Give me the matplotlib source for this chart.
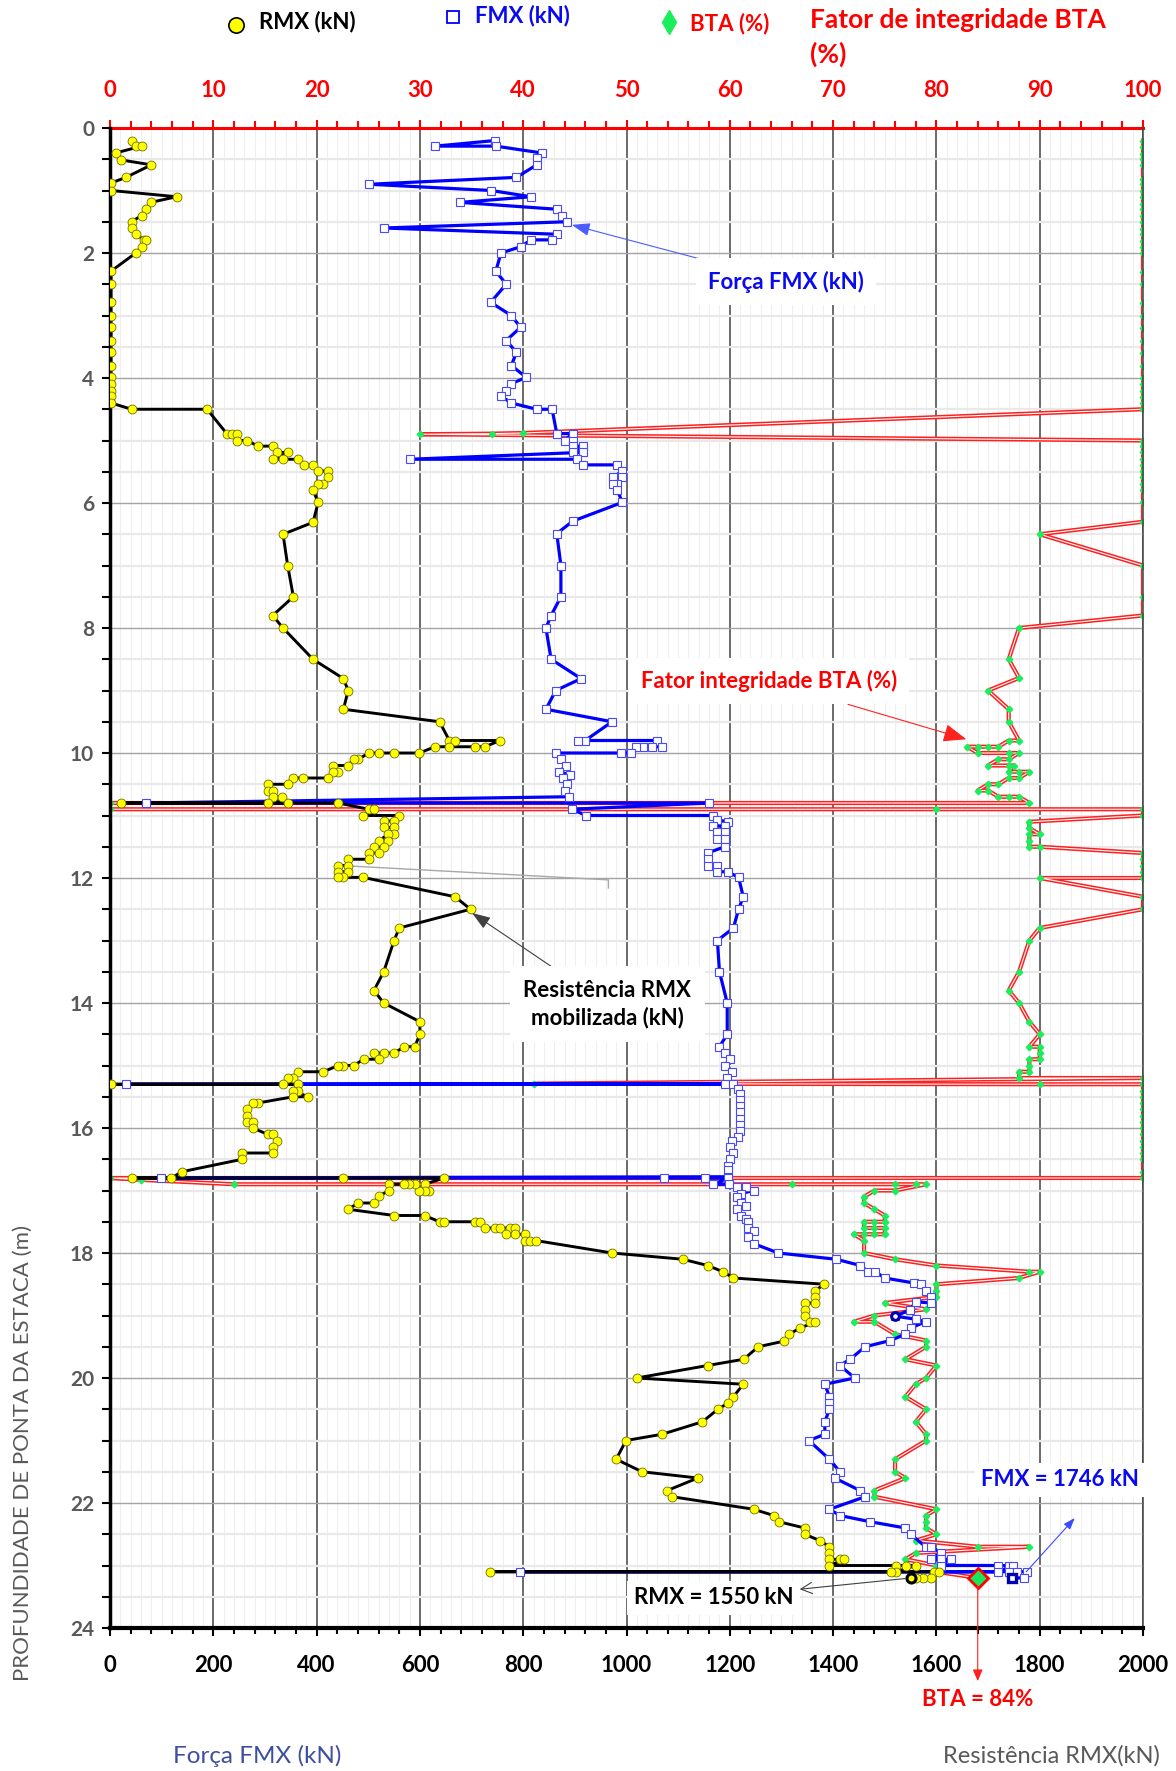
import matplotlib
matplotlib.use("Agg")
import matplotlib.pyplot as plt
import matplotlib.patheffects as pe
from matplotlib.lines import Line2D
from matplotlib.ticker import MultipleLocator, FixedLocator

plt.rcParams["font.family"] = ["Lato", "DejaVu Sans"]
plt.rcParams["font.weight"] = "bold"

# ---------------- data ----------------
# RMX - mobilised resistance (kN) along the pile tip depth (m)
rmx_depth = [0.20, 0.29, 0.29, 0.40, 0.51, 0.59, 0.79, 0.88, 1.00, 1.10,
             1.19, 1.30, 1.40, 1.50, 1.60, 1.70, 1.79, 1.79, 1.90, 2.00,
             2.29, 2.50, 2.79, 3.00, 3.19, 3.40, 3.59, 3.80, 3.99, 4.09,
             4.20, 4.29, 4.40, 4.50, 4.50, 4.89, 4.89, 4.89, 5.00, 5.00,
             5.09, 5.09, 5.19, 5.19, 5.30, 5.30, 5.30, 5.39, 5.39, 5.49,
             5.49, 5.59, 5.69, 5.69, 5.79, 5.99, 6.31, 6.50, 7.00, 7.50,
             7.80, 8.00, 8.50, 8.81, 9.00, 9.30, 9.50, 9.80, 9.80, 9.80,
             9.90, 9.90, 9.90, 9.90, 10.00, 10.00, 10.00, 10.00, 10.10, 10.10,
             10.20, 10.20, 10.30, 10.30, 10.40, 10.40, 10.40, 10.50, 10.50, 10.60,
             10.60, 10.70, 10.70, 10.80, 10.80, 10.80, 10.80, 10.90, 10.90, 11.00,
             11.00, 11.09, 11.09, 11.19, 11.19, 11.30, 11.30, 11.40, 11.40, 11.50,
             11.50, 11.60, 11.60, 11.70, 11.70, 11.80, 11.80, 11.90, 11.90, 11.99,
             11.99, 11.99, 12.30, 12.50, 12.80, 13.00, 13.50, 13.80, 14.00, 14.30,
             14.50, 14.70, 14.70, 14.80, 14.80, 14.80, 14.90, 14.90, 15.00, 15.00,
             15.00, 15.10, 15.10, 15.20, 15.20, 15.30, 15.30, 15.30, 15.40, 15.40,
             15.50, 15.50, 15.60, 15.60, 15.70, 15.80, 15.90, 15.90, 16.00, 16.10,
             16.10, 16.20, 16.30, 16.40, 16.40, 16.50, 16.70, 16.80, 16.80, 16.80,
             16.80, 16.90, 17.00, 17.00, 17.00, 16.90, 16.90, 16.90, 16.90, 17.00,
             17.09, 17.20, 17.20, 17.30, 17.40, 17.40, 17.50, 17.50, 17.50, 17.50,
             17.60, 17.60, 17.60, 17.60, 17.60, 17.70, 17.70, 17.70, 17.80, 17.80,
             17.80, 18.00, 18.10, 18.20, 18.30, 18.40, 18.50, 18.61, 18.71, 18.80,
             18.80, 18.91, 19.01, 19.11, 19.11, 19.20, 19.30, 19.41, 19.50, 19.70,
             19.80, 20.00, 20.10, 20.30, 20.40, 20.50, 20.70, 20.90, 21.00, 21.30,
             21.50, 21.60, 21.80, 21.90, 22.10, 22.20, 22.30, 22.40, 22.50, 22.60,
             22.70, 22.80, 22.90, 22.90, 22.90, 23.00, 23.00, 23.00, 23.00, 23.10,
             23.10, 23.10, 23.10, 23.10, 23.20, 23.20, 23.20]
rmx_kn = [42, 51, 61, 11, 21, 80, 31, 2, 2, 129,
          79, 70, 61, 42, 42, 50, 66, 70, 61, 50,
          2, 2, 2, 2, 2, 2, 2, 2, 2, 2,
          2, 2, 2, 42, 188, 226, 237, 246, 246, 266,
          286, 315, 323, 344, 315, 334, 364, 375, 393, 403,
          423, 423, 413, 403, 393, 403, 393, 335, 344, 355,
          315, 335, 393, 452, 461, 452, 638, 657, 667, 755,
          726, 707, 657, 629, 599, 549, 521, 501, 481, 472,
          461, 432, 442, 432, 422, 374, 355, 344, 305, 305,
          315, 315, 333, 344, 305, 21, 442, 501, 511, 490,
          559, 550, 530, 530, 550, 550, 539, 521, 539, 530,
          511, 521, 501, 501, 461, 461, 442, 442, 461, 452,
          442, 490, 668, 698, 560, 550, 530, 511, 530, 600,
          600, 590, 570, 550, 530, 511, 521, 491, 472, 452,
          442, 413, 364, 355, 344, 335, 2, 364, 364, 355,
          383, 355, 286, 276, 266, 266, 266, 276, 276, 305,
          315, 324, 315, 315, 256, 256, 139, 119, 42, 452,
          647, 609, 618, 609, 598, 590, 579, 570, 540, 540,
          521, 511, 481, 461, 550, 609, 638, 647, 707, 717,
          727, 745, 755, 775, 785, 766, 785, 804, 804, 814,
          824, 972, 1109, 1157, 1187, 1207, 1383, 1364, 1364, 1364,
          1345, 1345, 1345, 1355, 1364, 1336, 1315, 1305, 1255, 1227,
          1157, 1020, 1226, 1207, 1197, 1177, 1147, 1069, 999, 980,
          1030, 1138, 1079, 1089, 1246, 1285, 1295, 1345, 1345, 1374,
          1393, 1393, 1393, 1413, 1422, 1393, 1522, 1541, 1560, 1522,
          1512, 736, 1596, 1606, 1590, 1575, 1560]

# FMX - maximum force (kN)
fmx_depth = [0.20, 0.29, 0.29, 0.40, 0.48, 0.59, 0.79, 0.90, 1.00, 1.10,
             1.19, 1.30, 1.40, 1.50, 1.60, 1.70, 1.79, 1.79, 1.90, 2.00,
             2.29, 2.50, 2.79, 3.00, 3.19, 3.40, 3.59, 3.80, 3.99, 4.09,
             4.20, 4.29, 4.40, 4.50, 4.50, 4.89, 4.89, 5.00, 5.00, 5.09,
             5.09, 5.19, 5.19, 5.30, 5.30, 5.39, 5.39, 5.49, 5.59, 5.59,
             5.69, 5.69, 5.79, 5.99, 6.29, 6.49, 7.00, 7.50, 7.80, 8.00,
             8.50, 8.81, 9.00, 9.30, 9.50, 9.80, 9.80, 9.80, 9.90, 9.90,
             9.90, 9.90, 10.00, 10.00, 10.00, 10.10, 10.20, 10.30, 10.35, 10.40,
             10.50, 10.60, 10.70, 10.80, 10.80, 10.90, 11.00, 11.00, 11.07, 11.10,
             11.17, 11.17, 11.27, 11.27, 11.38, 11.38, 11.50, 11.60, 11.70, 11.80,
             11.80, 11.90, 11.90, 11.99, 12.30, 12.50, 12.80, 13.00, 13.50, 14.00,
             14.50, 14.70, 14.80, 14.90, 15.00, 15.10, 15.20, 15.29, 15.30, 15.30,
             15.37, 15.45, 15.55, 15.65, 15.75, 15.85, 15.95, 16.05, 16.14, 16.20,
             16.30, 16.40, 16.50, 16.60, 16.67, 16.78, 16.80, 16.80, 16.80, 16.80,
             16.90, 16.90, 16.95, 16.95, 17.00, 17.05, 17.10, 17.20, 17.25, 17.30,
             17.40, 17.45, 17.50, 17.60, 17.65, 17.75, 17.85, 18.00, 18.10, 18.20,
             18.30, 18.30, 18.40, 18.48, 18.50, 18.61, 18.70, 18.80, 18.78, 18.91,
             19.01, 19.06, 19.10, 19.20, 19.30, 19.40, 19.50, 19.70, 19.80, 20.00,
             20.10, 20.30, 20.40, 20.50, 20.70, 20.90, 21.00, 21.30, 21.50, 21.60,
             21.80, 21.90, 22.10, 22.20, 22.30, 22.40, 22.50, 22.70, 22.70, 22.80,
             22.90, 22.90, 22.90, 23.00, 23.00, 23.00, 23.00, 23.10, 23.10, 23.10,
             23.10, 23.10, 23.20]
fmx_kn = [746, 630, 747, 836, 826, 826, 787, 502, 738, 815,
          678, 865, 875, 885, 530, 865, 856, 815, 795, 757,
          747, 767, 737, 777, 795, 767, 787, 777, 806, 777,
          767, 757, 777, 826, 856, 865, 896, 880, 896, 896,
          915, 896, 915, 581, 905, 915, 982, 992, 973, 992,
          982, 973, 982, 992, 896, 865, 873, 873, 854, 844,
          854, 912, 863, 844, 972, 920, 907, 1059, 1068, 1050,
          1031, 1018, 1009, 990, 863, 873, 883, 870, 890, 878,
          885, 880, 888, 70, 1160, 894, 922, 1168, 1176, 1196,
          1168, 1190, 1176, 1190, 1176, 1190, 1190, 1157, 1157, 1157,
          1176, 1176, 1196, 1217, 1226, 1217, 1207, 1176, 1180, 1195,
          1195, 1180, 1190, 1200, 1190, 1205, 1195, 1190, 31, 1207,
          1215, 1220, 1220, 1220, 1220, 1220, 1220, 1220, 1215, 1205,
          1200, 1207, 1200, 1197, 1197, 1197, 99, 1072, 1152, 1197,
          1168, 1198, 1214, 1232, 1246, 1221, 1214, 1221, 1232, 1214,
          1221, 1232, 1235, 1235, 1246, 1235, 1246, 1294, 1406, 1453,
          1468, 1482, 1500, 1557, 1571, 1579, 1589, 1589, 1560, 1549,
          1520, 1560, 1579, 1550, 1540, 1511, 1462, 1433, 1413, 1442,
          1384, 1393, 1393, 1393, 1384, 1384, 1353, 1393, 1413, 1403,
          1452, 1462, 1393, 1413, 1472, 1540, 1550, 1579, 1589, 1609,
          1589, 1609, 1629, 1609, 1720, 1740, 1748, 1720, 794, 1740,
          1756, 1775, 1769]

# BTA - integrity factor (%)
bta_depth = [0.20, 0.30, 0.41, 0.50, 0.59, 0.81, 0.90, 1.01, 1.10, 1.21,
             1.30, 1.40, 1.50, 1.61, 1.70, 1.80, 1.90, 2.00, 2.30, 2.50,
             2.80, 3.00, 3.20, 3.40, 3.60, 3.80, 4.00, 4.09, 4.20, 4.30,
             4.40, 4.50, 4.88, 4.89, 4.90, 5.00, 5.09, 5.19, 5.30, 5.39,
             5.49, 5.59, 5.70, 5.79, 5.99, 6.30, 6.50, 7.00, 7.50, 7.80,
             8.00, 8.50, 8.80, 9.00, 9.30, 9.50, 9.80, 9.80, 9.90, 9.90,
             9.90, 9.90, 10.00, 10.00, 10.00, 10.10, 10.10, 10.20, 10.20, 10.20,
             10.30, 10.30, 10.30, 10.40, 10.40, 10.50, 10.50, 10.60, 10.60, 10.70,
             10.70, 10.70, 10.80, 10.80, 10.90, 10.90, 10.90, 11.00, 11.10, 11.20,
             11.30, 11.30, 11.40, 11.50, 11.50, 11.60, 11.70, 11.80, 11.90, 12.00,
             12.00, 12.30, 12.50, 12.80, 13.00, 13.50, 13.80, 14.00, 14.30, 14.50,
             14.70, 14.70, 14.80, 14.90, 14.90, 15.00, 15.10, 15.10, 15.20, 15.20,
             15.29, 15.30, 15.30, 15.40, 15.50, 15.60, 15.70, 15.80, 15.90, 16.00,
             16.10, 16.20, 16.30, 16.40, 16.50, 16.70, 16.80, 16.80, 16.83, 16.90,
             16.90, 16.90, 16.90, 16.90, 17.00, 17.00, 17.10, 17.20, 17.30, 17.40,
             17.50, 17.50, 17.50, 17.60, 17.60, 17.60, 17.70, 17.70, 17.70, 17.70,
             17.80, 18.00, 18.10, 18.20, 18.30, 18.30, 18.40, 18.50, 18.60, 18.70,
             18.80, 18.90, 19.00, 19.10, 19.10, 19.30, 19.40, 19.50, 19.70, 19.80,
             20.00, 20.10, 20.30, 20.50, 20.70, 20.90, 21.00, 21.30, 21.50, 21.60,
             21.80, 21.90, 22.10, 22.20, 22.30, 22.40, 22.50, 22.60, 22.70, 22.70,
             22.80, 22.90, 23.00, 23.10]
bta_pct = [100, 100, 100, 100, 100, 100, 100, 100, 100, 100,
           100, 100, 100, 100, 100, 100, 100, 100, 100, 100,
           100, 100, 100, 100, 100, 100, 100, 100, 100, 100,
           100, 100, 40, 37, 30, 100, 100, 100, 100, 100,
           100, 100, 100, 100, 100, 100, 90, 100, 100, 100,
           88, 87, 88, 85, 87, 87, 88, 87, 86, 85,
           84, 83, 84, 87, 88, 87, 86, 85, 87, 87.5,
           87, 88, 89, 88, 87, 86, 85, 84, 85, 86,
           87, 88, 89, 0, 0, 80, 100, 100, 89, 89,
           90, 89, 89, 89, 90, 100, 100, 100, 100, 100,
           90, 100, 100, 90, 89, 88, 87, 88, 89, 90,
           89, 90, 90, 90, 89, 89, 89, 88, 88, 100,
           41, 90, 100, 100, 100, 100, 100, 100, 100, 100,
           100, 100, 100, 100, 100, 100, 100, 0, 3, 12,
           66, 76, 78, 79, 76, 74, 73, 73, 74, 75,
           75, 74, 73, 73, 74, 75, 75, 74, 73, 72,
           73, 73, 76, 80, 89, 90, 88, 80, 80, 80,
           75, 79, 74, 72, 74, 76, 79, 79, 77, 80,
           79, 78, 77, 79, 78, 79, 79, 76, 76, 77,
           74, 74, 80, 79, 79, 79, 80, 78, 84, 89,
           78, 77, 80, 80]

# final blow values at the pile tip
final_depth = 23.2
rmx_final = 1550
fmx_final = 1746
bta_final = 84

rmx_depth = rmx_depth + [final_depth]
rmx_kn = rmx_kn + [rmx_final]
fmx_depth = fmx_depth + [final_depth]
fmx_kn = fmx_kn + [fmx_final]
bta_depth = bta_depth + [final_depth]
bta_pct = bta_pct + [bta_final]

force_ticks = list(range(0, 2001, 200))
pct_ticks = list(range(0, 101, 10))
pct_minor_ticks = list(range(0, 101, 2))
FORCE_MAX = 2000
PCT_MAX = 100
DEPTH_MAX = 24

# ---------------- figure ----------------
FIG_W, FIG_H = 1176, 1771
fig = plt.figure(figsize=(FIG_W / 100, FIG_H / 100), dpi=100, facecolor="white")


def fx(px):
    return px / FIG_W


def fy(py):
    return 1 - py / FIG_H


ax = fig.add_axes([fx(110), fy(1628), fx(1143) - fx(110), fy(128) - fy(1628)])
ax_bta = ax.twiny()
ax.set_zorder(3)
ax_bta.set_zorder(2)
ax.patch.set_visible(False)
ax_bta.patch.set_visible(True)
ax_bta.patch.set_facecolor("white")

ax.xaxis.set_major_locator(FixedLocator(force_ticks))
ax.xaxis.set_minor_locator(MultipleLocator(40))
ax.yaxis.set_major_locator(MultipleLocator(2))
ax.yaxis.set_minor_locator(MultipleLocator(0.5))
ax_bta.xaxis.set_major_locator(FixedLocator(pct_ticks))
ax_bta.xaxis.set_minor_locator(MultipleLocator(1))

# grid lives on the BTA axes, underneath everything else
ax_bta.yaxis.set_visible(True)
ax_bta.tick_params(axis="y", which="both", left=False, right=False,
                   labelleft=False, labelright=False)
ax_bta.tick_params(axis="x", which="both", top=False, bottom=False,
                   labeltop=False, labelbottom=False)
ax_bta.set_axisbelow(True)
ax_bta.grid(which="minor", axis="x", color="#EFEFEF", lw=0.8)
ax_bta.grid(which="minor", axis="y", color="#E9E9E9", lw=1.6)
ax_bta.grid(which="major", axis="y", color="#A3A3A3", lw=1.0)
ax_bta.grid(which="major", axis="x", color="#424242", lw=1.1)
for s in ax_bta.spines.values():
    s.set_visible(False)

# BTA: red double line with green diamonds
ax_bta.plot(bta_pct, bta_depth, color="white", lw=0.8, zorder=2,
            solid_joinstyle="round",
            path_effects=[pe.Stroke(linewidth=3.0, foreground="#FF1F1F"), pe.Normal()])
ax_bta.plot(bta_pct[:-1], bta_depth[:-1], ls="none", marker="D", ms=3.3,
            mfc="#1AEE5C", mec="#1AEE5C", zorder=3)

# FMX and RMX
ax.plot(fmx_kn, fmx_depth, color="#0000FF", lw=2.3, zorder=2, solid_joinstyle="round")
ax.plot(rmx_kn, rmx_depth, color="black", lw=2.1, zorder=3, solid_joinstyle="round")
ax.plot(fmx_kn, fmx_depth, ls="none", marker="s", ms=5.8, mfc="white",
        mec="#4848FF", mew=0.8, zorder=4)
ax.plot(rmx_kn, rmx_depth, ls="none", marker="o", ms=6.4, mfc="#FFFF00",
        mec="#707000", mew=0.6, zorder=5)

# highlighted blows
i_mark = fmx_depth.index(19.01)
ax.plot([fmx_kn[i_mark]], [fmx_depth[i_mark]], ls="none", marker="o", ms=5.5,
        mfc="white", mec="#0000B0", mew=2.2, zorder=6)
ax.plot([rmx_kn[-1]], [rmx_depth[-1]], ls="none", marker="o", ms=6.5,
        mfc="#FFFF00", mec="black", mew=2.2, zorder=7)
ax.plot([fmx_kn[-1]], [fmx_depth[-1]], ls="none", marker="s", ms=6.0,
        mfc="white", mec="#0000B0", mew=2.4, zorder=7)
ax.plot([bta_pct[-1]], [bta_depth[-1]], ls="none", marker="D", ms=10.5,
        mfc="#1AE85A", mec="#FF0000", mew=2.0, zorder=7, transform=ax_bta.transData)

# limits
ax.set_xlim(0, FORCE_MAX)
ax.set_ylim(DEPTH_MAX, 0)
ax_bta.set_xlim(0, PCT_MAX)

# axes styling
ax.spines["top"].set_visible(False)
ax.spines["right"].set_color("#424242")
ax.spines["right"].set_linewidth(1.1)
ax.spines["left"].set_color("black")
ax.spines["left"].set_linewidth(2.5)
ax.spines["bottom"].set_color("black")
ax.spines["bottom"].set_linewidth(3.0)
ax.tick_params(axis="x", which="major", direction="out", length=5.5, width=1.5,
               pad=14, labelsize=16, colors="black")
ax.tick_params(axis="x", which="minor", direction="out", length=4, width=1.5, colors="black")
ax.tick_params(axis="y", which="both", direction="out", length=5.5, width=1.5,
               pad=6, labelsize=15, colors="black", labelcolor="#595959")

top = ax.secondary_xaxis("top", functions=(lambda k: k * PCT_MAX / FORCE_MAX,
                                           lambda p: p * FORCE_MAX / PCT_MAX))
top.xaxis.set_major_locator(FixedLocator(pct_ticks))
top.xaxis.set_minor_locator(FixedLocator(pct_minor_ticks))
top.spines["top"].set_color("#FF0000")
top.spines["top"].set_linewidth(2.2)
top.tick_params(axis="x", which="major", direction="out", length=5.5, width=1.5,
                pad=14, labelsize=16, colors="#FF0000")
top.tick_params(axis="x", which="minor", direction="out", length=5, width=1.5,
                colors="#FF0000")

# ---------------- annotations ----------------
box = dict(boxstyle="square,pad=0.55", fc="white", ec="none")

ax.annotate("Força FMX (kN)", xy=(894, 1.55), xytext=(1309, 2.46),
            ha="center", va="center", fontsize=16, color="#0A0AF0", bbox=box, zorder=8,
            arrowprops=dict(arrowstyle="-|>,head_length=0.7,head_width=0.25",
                            color="#4A5CFF", lw=0.8, shrinkA=0, shrinkB=0))

ax_bta.annotate("Fator integridade BTA (%)", xy=(82.9, 9.78), xytext=(63.8, 8.85),
                ha="center", va="center", fontsize=16, color="#FF0000", bbox=box, zorder=8,
                arrowprops=dict(arrowstyle="-|>,head_length=0.9,head_width=0.35",
                                color="#FF2020", lw=0.8, shrinkA=0, shrinkB=0))

ax.annotate("Resistência RMX\nmobilizada (kN)", xy=(701, 12.56), xytext=(963, 14.02),
            ha="center", va="center", fontsize=16, color="black", linespacing=1.35,
            bbox=dict(boxstyle="square,pad=0.6", fc="white", ec="none"), zorder=8,
            arrowprops=dict(arrowstyle="-|>,head_length=0.7,head_width=0.25",
                            color="#404040", lw=0.8, shrinkA=0, shrinkB=0))

# leader line from the RMX cluster at ~12 m
ax.plot([446, 965, 965], [11.8, 12.03, 12.16], color="#A8A8A8", lw=1.0, zorder=1.5)

ax.annotate("RMX = 1550 kN", xy=(rmx_kn[-1], rmx_depth[-1]), xytext=(1168, 23.52),
            ha="center", va="center", fontsize=16, color="black",
            bbox=dict(boxstyle="square,pad=0.3", fc="white", ec="none"), zorder=8,
            arrowprops=dict(arrowstyle="<-,head_length=0.5,head_width=0.25",
                            color="#404040", lw=0.8, shrinkA=0, shrinkB=4))

ax.text(1840, 21.63, "FMX = 1746 kN", ha="center", va="center", fontsize=16,
        color="#0A0AF0", bbox=dict(boxstyle="square,pad=0.3", fc="white", ec="none"),
        zorder=8)
ax.annotate("", xy=(1868, 22.24), xytext=(1774, 23.1),
            arrowprops=dict(arrowstyle="-|>,head_length=0.7,head_width=0.25",
                            color="#3A4CFF", lw=0.8, shrinkA=0, shrinkB=0), zorder=8)

ax.annotate("", xy=(bta_pct[-1], 24.85), xytext=(bta_pct[-1], bta_depth[-1]),
            xycoords=ax_bta.transData, textcoords=ax_bta.transData, annotation_clip=False,
            arrowprops=dict(arrowstyle="-|>,head_length=0.7,head_width=0.3",
                            color="#FF2020", lw=0.8, shrinkA=6, shrinkB=0), zorder=8)
ax.text(bta_pct[-1], 25.15, "BTA = 84%", transform=ax_bta.transData, clip_on=False,
        ha="center", va="center", fontsize=16, color="#FF0000")

# ---------------- legend and outer labels ----------------
fig.add_artist(Line2D([fx(236)], [fy(25)], transform=fig.transFigure, ls="none",
                      marker="o", ms=11, mfc="#FFFF00", mec="black", mew=1.2))
fig.text(fx(259), fy(22), "RMX (kN)", fontsize=16, ha="left", va="center", color="black")
fig.add_artist(Line2D([fx(453)], [fy(17)], transform=fig.transFigure, ls="none",
                      marker="s", ms=8, mfc="white", mec="#0000FF", mew=1.3))
fig.text(fx(475), fy(16), "FMX (kN)", fontsize=16, ha="left", va="center", color="#0A0AF0")
fig.add_artist(Line2D([fx(669)], [fy(22)], transform=fig.transFigure, ls="none",
                      marker="d", ms=12.5, mfc="#1AEE5C", mec="#1AEE5C"))
fig.text(fx(690), fy(24), "BTA (%)", fontsize=16, ha="left", va="center", color="#FF0000")
fig.text(fx(810), fy(20), "Fator de integridade BTA", fontsize=19, ha="left",
         va="center", color="#FF0000")
fig.text(fx(810), fy(54), "(%)", fontsize=19, ha="left", va="center", color="#FF0000")

fig.text(fx(23), fy(1453), "PROFUNDIDADE DE PONTA DA ESTACA (m)", rotation=90,
         ha="center", va="center", fontsize=16, fontweight="normal", color="#595959")
fig.text(fx(257), fy(1756), "Força FMX (kN)", ha="center", va="center", fontsize=17.5,
         fontweight="normal", color="#3D4F9F")
fig.text(fx(1160), fy(1756), "Resistência RMX(kN)", ha="right", va="center", fontsize=17,
         fontweight="normal", color="#595959")

fig.savefig("out.png", dpi=100, facecolor="white")
